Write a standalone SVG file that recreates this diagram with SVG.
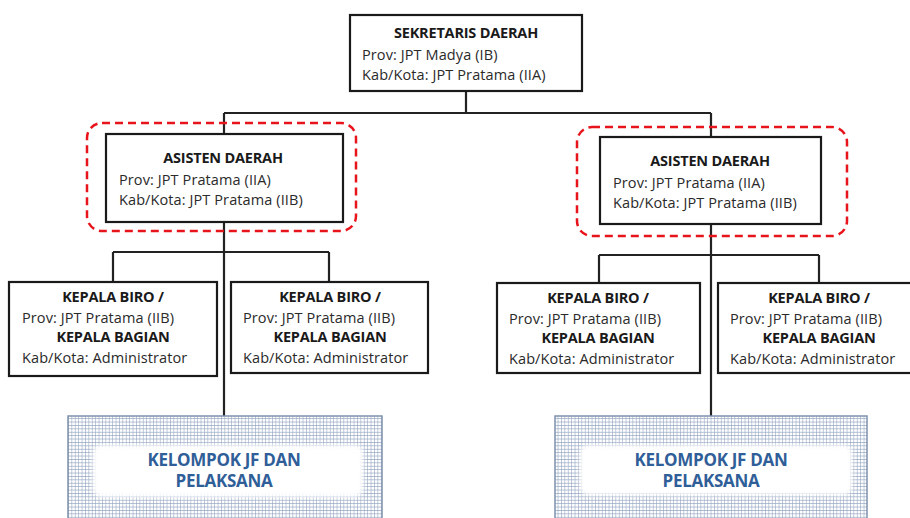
<svg xmlns="http://www.w3.org/2000/svg" width="910" height="518" viewBox="0 0 910 518">
<style>
.box{fill:#fff;stroke:#1a1a1a;stroke-width:2.2}
.hl{fill:none;stroke:#e8141c;stroke-width:2.5;stroke-dasharray:8 5}
.ln{fill:none;stroke:#222;stroke-width:2.2}
.b{font-family:"Open Sans","Liberation Sans",sans-serif;font-size:14.5px;font-weight:bold;fill:#1a1a1a;text-anchor:middle;letter-spacing:-0.2px}
.r{font-family:"Open Sans","Liberation Sans",sans-serif;font-size:14.5px;fill:#2a2a2a;letter-spacing:0.1px}
.jf{font-family:"Open Sans","Liberation Sans",sans-serif;font-size:17px;font-weight:bold;fill:#2f5e98;text-anchor:middle;letter-spacing:-0.3px}
.grid{fill:url(#grid);stroke:#7f91ad;stroke-width:1.5}
.inner{fill:#fff;filter:url(#soft)}
</style>
<defs>
<pattern id="grid" width="3.4" height="3.4" patternUnits="userSpaceOnUse">
<rect width="3.4" height="3.4" fill="#fff"/>
<path d="M0 0H3.4M0 0V3.4" stroke="#8da0bd" stroke-width="1.1"/>
</pattern>
<filter id="soft" x="-10%" y="-30%" width="120%" height="160%">
<feGaussianBlur stdDeviation="2"/>
</filter>
</defs>
<g id="connectors">
<path class="ln" d="M466 91V113M224 113H711M224 113V134M711 113V137"/>
<path class="ln" d="M224 222V416M113 252H329M113 252V282M329 252V282"/>
<path class="ln" d="M711 224V416M599 255H819M599 255V283M819 255V283"/>
</g>
<g id="sekda">
<rect class="box" x="350" y="15" width="232" height="76"/>
<text class="b" x="466" y="38">SEKRETARIS DAERAH</text>
<text class="r" x="362" y="60">Prov: JPT Madya (IB)</text>
<text class="r" x="362" y="80">Kab/Kota: JPT Pratama (IIA)</text>
</g>
<g id="asisten-left">
<rect class="hl" x="87" y="123" width="269" height="108" rx="15"/>
<rect class="box" x="106" y="134" width="237" height="88"/>
<text class="b" x="223" y="163">ASISTEN DAERAH</text>
<text class="r" x="119" y="185">Prov: JPT Pratama (IIA)</text>
<text class="r" x="119" y="205">Kab/Kota: JPT Pratama (IIB)</text>
</g>
<g id="asisten-right">
<rect class="hl" x="577" y="127" width="270" height="109" rx="15"/>
<rect class="box" x="600" y="137" width="221" height="87"/>
<text class="b" x="710" y="166">ASISTEN DAERAH</text>
<text class="r" x="613" y="188">Prov: JPT Pratama (IIA)</text>
<text class="r" x="613" y="208">Kab/Kota: JPT Pratama (IIB)</text>
</g>
<g id="biro-1">
<rect class="box" x="9" y="282" width="208" height="94"/>
<text class="b" x="113" y="302">KEPALA BIRO /</text>
<text class="r" x="22" y="323">Prov: JPT Pratama (IIB)</text>
<text class="b" x="113" y="342">KEPALA BAGIAN</text>
<text class="r" x="22" y="363">Kab/Kota: Administrator</text>
</g>
<g id="biro-2">
<rect class="box" x="231" y="282" width="197" height="91"/>
<text class="b" x="330" y="302">KEPALA BIRO /</text>
<text class="r" x="243" y="323">Prov: JPT Pratama (IIB)</text>
<text class="b" x="330" y="342">KEPALA BAGIAN</text>
<text class="r" x="243" y="363">Kab/Kota: Administrator</text>
</g>
<g id="biro-3">
<rect class="box" x="497" y="283" width="203" height="90"/>
<text class="b" x="598" y="303">KEPALA BIRO /</text>
<text class="r" x="509" y="324">Prov: JPT Pratama (IIB)</text>
<text class="b" x="598" y="343">KEPALA BAGIAN</text>
<text class="r" x="509" y="364">Kab/Kota: Administrator</text>
</g>
<g id="biro-4">
<rect class="box" x="718" y="283" width="200" height="90"/>
<text class="b" x="819" y="303">KEPALA BIRO /</text>
<text class="r" x="730" y="324">Prov: JPT Pratama (IIB)</text>
<text class="b" x="819" y="343">KEPALA BAGIAN</text>
<text class="r" x="730" y="364">Kab/Kota: Administrator</text>
</g>
<g id="jf-left">
<rect class="grid" x="68" y="416" width="314" height="110"/>
<rect class="inner" x="93" y="445" width="270" height="52" rx="8"/>
<text class="jf" x="224" y="466">KELOMPOK JF DAN</text>
<text class="jf" x="224" y="487">PELAKSANA</text>
</g>
<g id="jf-right">
<rect class="grid" x="555" y="416" width="312" height="110"/>
<rect class="inner" x="580" y="445" width="272" height="50" rx="8"/>
<text class="jf" x="711" y="466">KELOMPOK JF DAN</text>
<text class="jf" x="711" y="487">PELAKSANA</text>
</g>
</svg>
